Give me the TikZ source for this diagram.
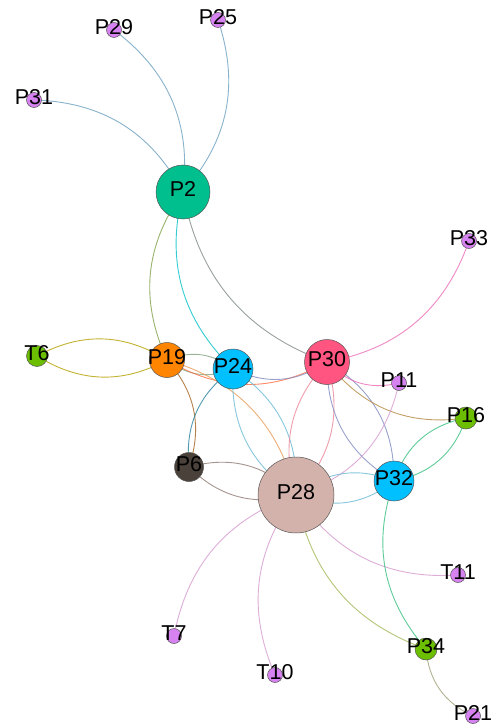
\documentclass[tikz,border=0pt]{standalone}
\usepackage{fontspec}
\setmainfont{Liberation Sans}
\usetikzlibrary{backgrounds}
% node colours
\definecolor{nP2}{RGB}{0,191,143}
\definecolor{nP19}{RGB}{255,132,0}
\definecolor{nCyan}{RGB}{0,192,255}
\definecolor{nP30}{RGB}{255,85,128}
\definecolor{nP28}{RGB}{212,178,172}
\definecolor{nP6}{RGB}{74,66,58}
\definecolor{nGreen}{RGB}{107,190,0}
\definecolor{nPurple}{RGB}{214,130,240}
\definecolor{nBorder}{RGB}{85,85,85}
% edge colours (mix of end colours)
\definecolor{eTwoPur}{RGB}{107,160,192}
\definecolor{eTwoOra}{RGB}{128,162,72}
\definecolor{eTwoCya}{RGB}{0,192,199}
\definecolor{eTwoPnk}{RGB}{128,138,136}
\definecolor{ePnkPur}{RGB}{235,108,184}
\definecolor{eGrnOra}{RGB}{181,161,0}
\definecolor{eOraCya}{RGB}{128,162,128}
\definecolor{eOraPnk}{RGB}{255,109,64}
\definecolor{eOraDrk}{RGB}{165,99,29}
\definecolor{eOraRos}{RGB}{234,155,86}
\definecolor{eDrkCya}{RGB}{37,129,157}
\definecolor{eCyaRos}{RGB}{106,185,214}
\definecolor{eCyaPnk}{RGB}{128,139,192}
\definecolor{ePnkRos}{RGB}{234,132,150}
\definecolor{ePnkGrn}{RGB}{181,138,64}
\definecolor{eRosPur}{RGB}{213,154,206}
\definecolor{eGrnCya}{RGB}{54,191,128}
\definecolor{eDrkRos}{RGB}{143,122,115}
\definecolor{eRosGrn}{RGB}{160,184,86}
\definecolor{eGrnPur}{RGB}{161,160,120}
\tikzset{
  vtx/.style={circle, draw=nBorder, line width=0.5pt, inner sep=0pt, minimum size=#1},
  lbl/.style={inner sep=0pt, font=\fontsize{21.5}{21.5}\selectfont, text=black, yshift=3pt},
  edge/.style={line width=0.9pt, draw opacity=0.8},
  bl/.style={bend left=30},
}
\begin{document}
\begin{tikzpicture}[x=1pt,y=1pt]
\useasboundingbox (0,0) rectangle (490,-727);
% nodes
\node[vtx=54, fill=nP2] (P2) at (183,-192) {};
\node[vtx=76, fill=nP28] (P28) at (296,-495) {};
\node[vtx=45, fill=nP30] (P30) at (327,-362) {};
\node[vtx=40, fill=nCyan] (P24) at (233,-369) {};
\node[vtx=40, fill=nCyan] (P32) at (394,-481) {};
\node[vtx=35, fill=nP19] (P19) at (167,-360) {};
\node[vtx=29, fill=nP6] (P6) at (189,-467) {};
\node[vtx=22, fill=nGreen] (P16) at (466,-418) {};
\node[vtx=22, fill=nGreen] (P34) at (426,-649) {};
\node[vtx=21, fill=nGreen] (T6) at (37,-356) {};
\node[vtx=15, fill=nPurple] (P29) at (114,-30) {};
\node[vtx=15, fill=nPurple] (P25) at (218,-20) {};
\node[vtx=15, fill=nPurple] (P31) at (34,-100) {};
\node[vtx=15, fill=nPurple] (P33) at (469,-241) {};
\node[vtx=15, fill=nPurple] (P11) at (399,-383) {};
\node[vtx=15, fill=nPurple] (T11) at (458,-575) {};
\node[vtx=15, fill=nPurple] (T7) at (174,-636) {};
\node[vtx=15, fill=nPurple] (T10) at (275,-675) {};
\node[vtx=15, fill=nPurple] (P21) at (473,-716) {};
% labels
\foreach \n in {P2,P28,P30,P24,P32,P19,P6,P16,P34,T6,P29,P25,P31,P33,P11,T11,T7,T10,P21}{
  \node[lbl] (\n lab) at (\n.center) {\n};
}
% edges
\begin{scope}[on background layer]
\fill[white] (0,0) rectangle (490,-727);
\draw[edge, eTwoPur] (P31.center) to[bl] (P2.center);
\draw[edge, eTwoPur] (P29.center) to[bl] (P2.center);
\draw[edge, eTwoPur] (P25.center) to[bl] (P2.center);
\draw[edge, eTwoOra] (P19.center) to[bl] (P2.center);
\draw[edge, eTwoCya] (P24.center) to[bl] (P2.center);
\draw[edge, eTwoPnk] (P30.center) to[bl] (P2.center);
\draw[edge, ePnkPur] (P33.center) to[bl] (P30.center);
\draw[edge, eGrnOra] (T6.center) to[bl] (P19.center);
\draw[edge, eGrnOra] (P19.center) to[bl] (T6.center);
\draw[edge, eOraCya] (P19.center) to[bl] (P24.center);
\draw[edge, eOraCya] (P24.center) to[bl] (P19.center);
\draw[edge, eOraPnk] (P30.center) to[bl] (P19.center);
\draw[edge, eOraDrk] (P19.center) to[bl] (P6.center);
\draw[edge, eOraRos] (P19.center) to[bl] (P28.center);
\draw[edge, eDrkCya] (P6.center) to[bl] (P24.center);
\draw[edge, eCyaRos] (P24.center) to[bl] (P28.center);
\draw[edge, eCyaRos] (P28.center) to[bl] (P24.center);
\draw[edge, eCyaPnk] (P30.center) to[bl] (P24.center);
\draw[edge, ePnkRos] (P30.center) to[bl] (P28.center);
\draw[edge, ePnkRos] (P28.center) to[bl] (P30.center);
\draw[edge, eCyaPnk] (P30.center) to[bl] (P32.center);
\draw[edge, eCyaPnk] (P32.center) to[bl] (P30.center);
\draw[edge, ePnkPur] (P11.center) to[bl] (P30.center);
\draw[edge, ePnkGrn] (P16.center) to[bl] (P30.center);
\draw[edge, eRosPur] (P11.center) to[bl] (P28.center);
\draw[edge, eGrnCya] (P16.center) to[bl] (P32.center);
\draw[edge, eGrnCya] (P32.center) to[bl] (P16.center);
\draw[edge, eDrkRos] (P6.center) to[bl] (P28.center);
\draw[edge, eDrkRos] (P28.center) to[bl] (P6.center);
\draw[edge, eCyaRos] (P28.center) to[bl] (P32.center);
\draw[edge, eCyaRos] (P32.center) to[bl] (P28.center);
\draw[edge, eRosPur] (T11.center) to[bl] (P28.center);
\draw[edge, eRosGrn] (P34.center) to[bl] (P28.center);
\draw[edge, eRosPur] (T7.center) to[bl] (P28.center);
\draw[edge, eRosPur] (T10.center) to[bl] (P28.center);
\draw[edge, eGrnCya] (P34.center) to[bl] (P32.center);
\draw[edge, eGrnPur] (P21.center) to[bl] (P34.center);
\end{scope}
\end{tikzpicture}
\end{document}
